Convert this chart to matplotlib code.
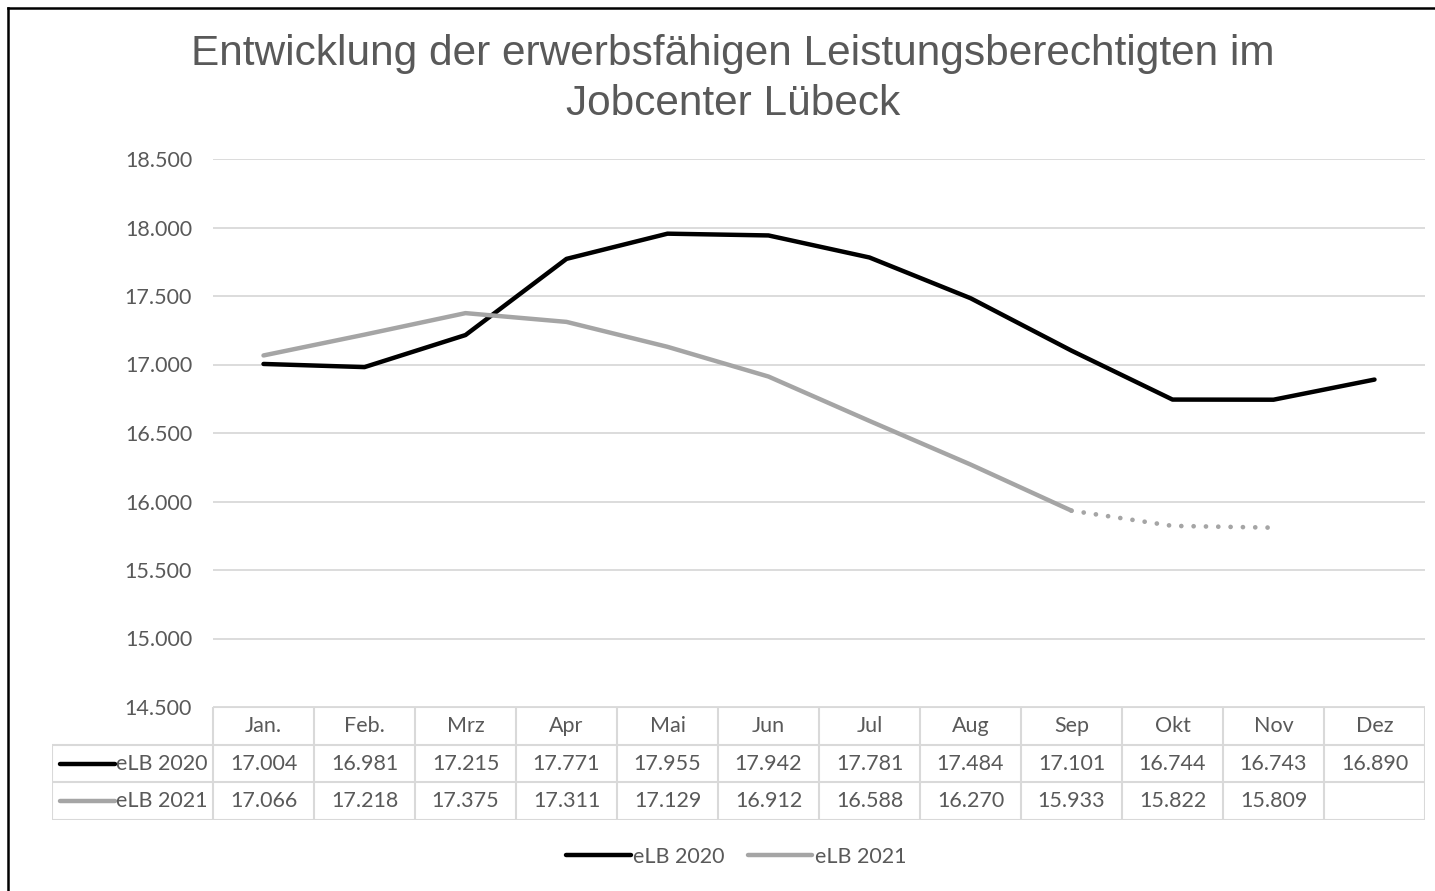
import matplotlib
matplotlib.use('Agg')
import matplotlib.pyplot as plt
from matplotlib.lines import Line2D
import numpy as np

months = ['Jan.', 'Feb.', 'Mrz', 'Apr', 'Mai', 'Jun', 'Jul', 'Aug', 'Sep', 'Okt', 'Nov', 'Dez']
elb_2020 = [17004, 16981, 17215, 17771, 17955, 17942, 17781, 17484, 17101, 16744, 16743, 16890]
elb_2021 = [17066, 17218, 17375, 17311, 17129, 16912, 16588, 16270, 15933, 15822, 15809]
n_solid_2021 = 9  # Jan..Sep solid, then dotted

yticks = [14500, 15000, 15500, 16000, 16500, 17000, 17500, 18000, 18500]

def fmt(v):
    return f'{v:,}'.replace(',', '.')

txt = '#595959'
grid_c = '#d9d9d9'
c20 = '#000000'
c21 = '#a5a5a5'
font = 'Lato'
fs = 15.5

W, H = 1435, 891
fig = plt.figure(figsize=(W / 100, H / 100), dpi=100)

# plot area
x0, x1, ytop, ybot = 213, 1425, 159, 707
ax = fig.add_axes([x0 / W, 1 - ybot / H, (x1 - x0) / W, (ybot - ytop) / H])
xs = np.arange(len(months)) + 0.5
ax.plot(xs, elb_2020, color=c20, lw=3.2, solid_joinstyle='round', solid_capstyle='round', zorder=3)
x21 = xs[:len(elb_2021)]
ax.plot(x21[:n_solid_2021], elb_2021[:n_solid_2021], color=c21, lw=3.2,
        solid_joinstyle='round', solid_capstyle='round', zorder=3)
ax.plot(x21[n_solid_2021 - 1:], elb_2021[n_solid_2021 - 1:], color=c21, lw=3.4,
        linestyle=(0, (0.01, 2.6)), dash_capstyle='round', zorder=3)
ax.set_xlim(0, len(months))
ax.set_ylim(yticks[0], yticks[-1])
ax.set_yticks(yticks)
ax.set_yticklabels([fmt(v) for v in yticks], fontsize=fs, color=txt, family=font)
ax.tick_params(axis='y', length=0, pad=15)
ax.set_xticks([])
ax.grid(axis='y', color=grid_c, lw=1.3)
for s in ax.spines.values():
    s.set_visible(False)
ax.set_axisbelow(True)

# data table
tx0, tbot = 52, 820
tab = fig.add_axes([tx0 / W, 1 - tbot / H, (x1 - tx0) / W, (tbot - ybot) / H])
colw = (x1 - x0) / len(months)
left = -(x0 - tx0) / colw
tab.set_xlim(left, len(months))
tab.set_ylim(0, 3)
tab.axis('off')
lk = dict(color=grid_c, lw=1.5, solid_capstyle='butt')
tab.plot([0, len(months)], [3, 3], **lk)
for yy in [2, 1, 0]:
    tab.plot([left, len(months)], [yy, yy], **lk)
for i in range(len(months) + 1):
    tab.plot([i, i], [0, 3], **lk)
tab.plot([left, left], [0, 2], **lk)

tk = dict(fontsize=fs, color=txt, family=font, ha='center', va='center')
for i, m in enumerate(months):
    tab.text(i + 0.5, 2.5, m, **tk)
for i, v in enumerate(elb_2020):
    tab.text(i + 0.5, 1.5, fmt(v), **tk)
for i, v in enumerate(elb_2021):
    tab.text(i + 0.5, 0.5, fmt(v), **tk)

for row, (lab, col) in enumerate([('eLB 2020', c20), ('eLB 2021', c21)]):
    yy = 1.5 - row
    tab.plot([left + 0.08, left + 0.62], [yy, yy], color=col, lw=3.2, solid_capstyle='round')
    tab.text(-0.05, yy, lab, fontsize=fs, color=txt, family=font, ha='right', va='center')

# title
fig.text(733 / W, 1 - 79 / H, 'Entwicklung der erwerbsfähigen Leistungsberechtigten im\nJobcenter Lübeck',
         ha='center', va='center', fontsize=30.5, color=txt, family='Liberation Sans', linespacing=1.3)

# legend
handles = [Line2D([], [], color=c20, lw=3.2, solid_capstyle='round'),
           Line2D([], [], color=c21, lw=3.2, solid_capstyle='round')]
fig.legend(handles, ['eLB 2020', 'eLB 2021'], loc='center', bbox_to_anchor=(736 / W, 1 - 857 / H),
           ncol=2, frameon=False, handlelength=3.0, handletextpad=0.1, columnspacing=1.1,
           prop={'family': font, 'size': fs}, labelcolor=txt)

# chart border (left and top)
fig.add_artist(Line2D([7.5 / W, 7.5 / W], [0, 1 - 7.5 / H], color='black', lw=1.8, transform=fig.transFigure))
fig.add_artist(Line2D([7.5 / W, 1], [1 - 7.5 / H, 1 - 7.5 / H], color='black', lw=1.8, transform=fig.transFigure))

fig.savefig('out.png', dpi=100)
